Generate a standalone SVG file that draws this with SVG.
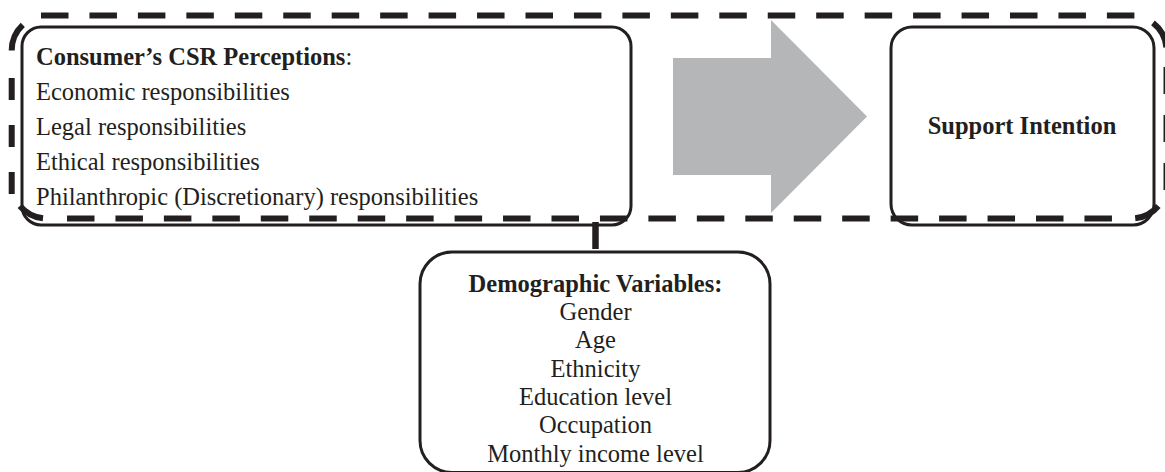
<svg xmlns="http://www.w3.org/2000/svg" width="1165" height="472" viewBox="0 0 1165 472">
  <style>
    .box { fill: #ffffff; stroke: #231f20; stroke-width: 3; }
    .dash { fill: none; stroke: #231f20; stroke-width: 6; }
    .txt { font-family: "Liberation Serif", "Times New Roman", serif; font-size: 24.5px; fill: #231f20; }
    .b { font-weight: bold; }
    .mid { text-anchor: middle; }
  </style>
  <rect width="1165" height="472" fill="#ffffff"/>

  <!-- perceptions node -->
  <g id="csr-perceptions">
    <rect class="box" x="22" y="27" width="609" height="198" rx="19"/>
    <text class="txt" x="36" y="64.5"><tspan class="b">Consumer’s CSR Perceptions</tspan>:</text>
    <text class="txt" x="36" y="99.7">Economic responsibilities</text>
    <text class="txt" x="36" y="134.9">Legal responsibilities</text>
    <text class="txt" x="36" y="170.1">Ethical responsibilities</text>
    <text class="txt" x="36" y="205.3">Philanthropic (Discretionary) responsibilities</text>
  </g>

  <!-- outcome node -->
  <g id="support-intention">
    <rect class="box" x="891" y="27" width="263" height="198" rx="21"/>
    <text class="txt b mid" x="1022" y="134">Support Intention</text>
  </g>

  <!-- moderator node -->
  <g id="demographics">
    <rect class="box" x="420" y="252" width="350" height="220.5" rx="32"/>
    <text class="txt b mid" x="595.5" y="291.7">Demographic Variables:</text>
    <text class="txt mid" x="595.5" y="320">Gender</text>
    <text class="txt mid" x="595.5" y="348.3">Age</text>
    <text class="txt mid" x="595.5" y="376.7">Ethnicity</text>
    <text class="txt mid" x="595.5" y="405">Education level</text>
    <text class="txt mid" x="595.5" y="433.3">Occupation</text>
    <text class="txt mid" x="595.5" y="461.7">Monthly income level</text>
  </g>

  <!-- dashed frame around the main relationship -->
  <g id="frame">
    <path class="dash" d="M41 15.5 H1135" stroke-dasharray="27.5 20.95"/>
    <path class="dash" d="M67 218.5 H1112" stroke-dasharray="27.5 20.95"/>
    <path class="dash" d="M11.7 78 V194" stroke-dasharray="22 25"/>
    <path class="dash" d="M1166.5 67 V190" stroke-dasharray="27 21"/>
    <path class="dash" d="M11.7 50.5 A35 35 0 0 1 22.8 24.9"/>
    <path class="dash" d="M1153 22.9 A35 35 0 0 1 1166.4 47.4"/>
    <path class="dash" d="M1135.2 218.3 A35 35 0 0 0 1158.3 206"/>
    <path class="dash" d="M43 218.3 A35 35 0 0 1 19.9 206"/>
  </g>

  <!-- connectors -->
  <g id="connectors">
    <polygon points="673,58 771,58 771,20 867,116.5 771,213 771,175 673,175" fill="#b5b6b8"/>
    <line x1="595.5" y1="222" x2="595.5" y2="249" stroke="#231f20" stroke-width="6.5"/>
  </g>
</svg>
